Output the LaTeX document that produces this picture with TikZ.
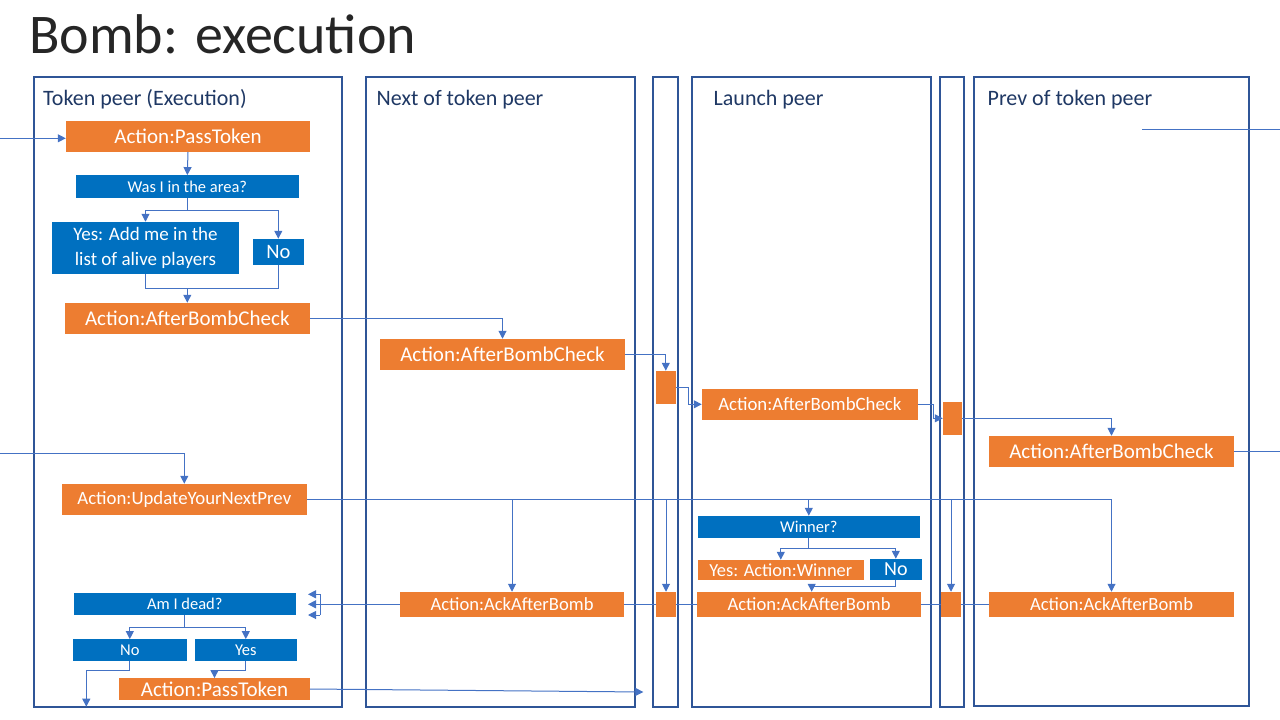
\documentclass[tikz,border=0pt]{standalone}
\usepackage{fontspec}
\setmainfont{Carlito}
\usetikzlibrary{arrows.meta}
\definecolor{naranja}{HTML}{ED7D31}
\definecolor{azul}{HTML}{0070C0}
\definecolor{borde}{HTML}{2F5597}
\definecolor{flecha}{HTML}{4472C4}
\definecolor{titulo}{HTML}{1F3864}

\begin{document}
\begin{tikzpicture}[x=1pt,y=-1pt,
    caja/.style 2 args={minimum width=#1pt, minimum height=#2pt},
    carril/.style={draw=borde, line width=1.3pt, inner sep=0pt},
    etiqueta/.style={anchor=base west, inner sep=0pt, text=titulo, font=\fontsize{22}{26}\selectfont},
    accion/.style={fill=naranja, text=white, inner sep=0pt, font=\fontsize{#1}{#1}\selectfont},
    accion/.default=21,
    pregunta/.style={fill=azul, text=white, inner sep=0pt, font=\fontsize{#1}{#1}\selectfont},
    pregunta/.default=16.5,
    marca/.style={fill=naranja, inner sep=0pt},
    linea/.style={draw=flecha, line width=1pt},
    flechita/.style={linea, -{Triangle[length=8pt,width=8pt]}}]

    \useasboundingbox (0,0) rectangle (1280,720);

    % Titulo
    \node[anchor=base west, inner sep=0pt, text=black!85, font=\fontsize{56}{60}\selectfont] (cabecera) at (29,53.3) {Bomb: execution};

    % Carriles
    \node[carril, caja={308}{630}] (token) at (188,392) {};
    \node[carril, caja={269}{630}] (siguiente) at (500.5,392) {};
    \node[carril, caja={25}{630}] (hueco1) at (665.5,392) {};
    \node[carril, caja={239}{630}] (lanzador) at (811.5,392) {};
    \node[carril, caja={24}{630}] (hueco2) at (952,392) {};
    \node[carril, caja={275}{629}] (anterior) at (1111.5,391.5) {};
    \node[etiqueta] (tToken) at (43,105) {Token peer (Execution)};
    \node[etiqueta] (tSiguiente) at (376.5,105) {Next of token peer};
    \node[etiqueta] (tLanzador) at (713.5,105) {Launch peer};
    \node[etiqueta] (tAnterior) at (987.5,105) {Prev of token peer};

    % Token peer: primera parte
    \node[accion, caja={244}{31}] (pass1) at (188,136.3) {Action:PassToken};
    \node[pregunta, caja={222.5}{22.4}] (area) at (187.3,186.5) {Was I in the area?};
    \node[pregunta=19, caja={187}{51.7}, align=center, font=\fontsize{19}{25}\selectfont] (si1) at (145.5,247.8) {Yes: Add me in the\\list of alive players};
    \node[pregunta=20.5, caja={50.7}{25.7}] (no1) at (278.3,251.8) {No};
    \node[accion, caja={244.7}{30.7}] (abc1) at (187.3,318.3) {Action:AfterBombCheck};

    % Reenvio del AfterBombCheck
    \node[accion, caja={245}{30.7}] (abc2) at (502.5,354.3) {Action:AfterBombCheck};
    \node[marca, caja={19.7}{32.7}] (m1) at (665.8,387.3) {};
    \node[accion=18.8, caja={215.7}{30.7}] (abc3) at (809.8,404.3) {Action:AfterBombCheck};
    \node[marca, caja={19}{32.7}] (m2) at (952.5,418.3) {};
    \node[accion, caja={245}{30.7}] (abc4) at (1111.5,451.3) {Action:AfterBombCheck};

    % UpdateYourNextPrev y respuestas
    \node[accion=18.8, caja={244.7}{30.7}] (upd) at (184.3,499.3) {Action:UpdateYourNextPrev};
    \node[pregunta, caja={221.7}{21.7}] (ganador) at (808.8,526.8) {Winner?};
    \node[accion=18.4, caja={165.7}{19.7}] (siW) at (780.8,569.8) {Yes: Action:Winner};
    \node[pregunta=20, caja={51.7}{20.7}] (noW) at (895.8,569.3) {No};
    \node[accion=18.6, caja={224}{24.7}] (ack2) at (512,604.3) {Action:AckAfterBomb};
    \node[marca, caja={20}{24.7}] (m3) at (666,604.3) {};
    \node[accion=18.6, caja={224}{24.7}] (ack3) at (809,604.3) {Action:AckAfterBomb};
    \node[marca, caja={20}{24.7}] (m4) at (951,604.3) {};
    \node[accion=18.6, caja={245}{24.7}] (ack4) at (1111.5,604.3) {Action:AckAfterBomb};

    % Token peer: final
    \node[pregunta, caja={221.7}{21.4}] (muerto) at (184.8,604) {Am I dead?};
    \node[pregunta, caja={113.7}{21.4}] (no2) at (129.8,650) {No};
    \node[pregunta, caja={101.7}{21.4}] (si2) at (245.8,650) {Yes};
    \node[accion, caja={190.4}{21.4}] (pass2) at (214.5,689) {Action:PassToken};

    % Extremos libres
    \coordinate (entradaA) at (0,138.3);
    \coordinate (entradaB) at (0,453.3);
    \coordinate (salidaD) at (1280,451.3);
    \coordinate (libreA) at (1142,129.3);
    \coordinate (libreB) at (1280,129.3);
    \coordinate (corchete) at (320,604.3);
    \coordinate (salidaNo) at (86.3,706.7);
    \coordinate (salidaPass) at (643.3,692);

    % Conexiones del token peer
    \draw[flechita] (entradaA) -- (entradaA -| pass1.west);
    \draw[flechita] (pass1.south) -- (area.north);
    \draw[flechita] (area.south) -- ++(0,12.5) -| (si1.north);
    \draw[flechita] (area.south) -- ++(0,12.5) -| (no1.north);
    \draw[linea] (si1.south) -- ++(0,14.6) -| (no1.south);
    \draw[flechita] ([yshift=14.7pt]abc1.north) -- (abc1.north);

    % Cadena del AfterBombCheck
    \draw[flechita] (abc1.east) -| (abc2.north);
    \draw[flechita] (abc2.east) -| (m1.north);
    \draw[flechita] (m1.east) -- ++(13,0) |- (abc3.west);
    \draw[flechita] (abc3.east) -- ++(15.5,0) |- (m2.west);
    \draw[flechita] (m2.east) -| (abc4.north);
    \draw[linea] (abc4.east) -- (salidaD);
    \draw[linea] (libreA) -- (libreB);

    % Cadena del UpdateYourNextPrev
    \draw[flechita] (entradaB) -| (upd.north);
    \draw[flechita] (upd.east) -| (ack4.north);
    \draw[flechita] (upd.east -| ack2.north) -- (ack2.north);
    \draw[flechita] (upd.east -| m3.north) -- (m3.north);
    \draw[flechita] (upd.east -| ganador.north) -- (ganador.north);
    \draw[flechita] (upd.east -| m4.north) -- (m4.north);
    \draw[flechita] (ganador.south) -- ++(0,11) -| (siW.north);
    \draw[flechita] (ganador.south) -- ++(0,11) -| (noW.north);
    \draw[flechita] (noW.south) -- ++(0,6.3) -| ([xshift=2.7pt]ack3.north);

    % AckAfterBomb de vuelta
    \draw[linea] (ack4.west) -- (m4.east);
    \draw[linea] (m4.west) -- (ack3.east);
    \draw[linea] (ack3.west) -- (m3.east);
    \draw[linea] (m3.west) -- (ack2.east);
    \draw[linea] (ack2.west) -- (corchete);
    \draw[linea] ([yshift=10pt]corchete) -- ([yshift=-10.7pt]corchete);
    \foreach \dy in {10,0,-10.7}
        \draw[flechita] ([yshift=\dy pt]corchete) -- ([yshift=\dy pt, xshift=-12pt]corchete);

    % Am I dead?
    \draw[flechita] (muerto.south) -- ++(0,12.6) -| (no2.north);
    \draw[flechita] (muerto.south) -- ++(0,12.6) -| (si2.north);
    \draw[flechita] (no2.south) -- ++(0,10) -| (salidaNo);
    \draw[flechita] (si2.south) -- ++(0,10) -| (pass2.north);
    \draw[flechita] (pass2.east) -- (salidaPass);
\end{tikzpicture}
\end{document}
